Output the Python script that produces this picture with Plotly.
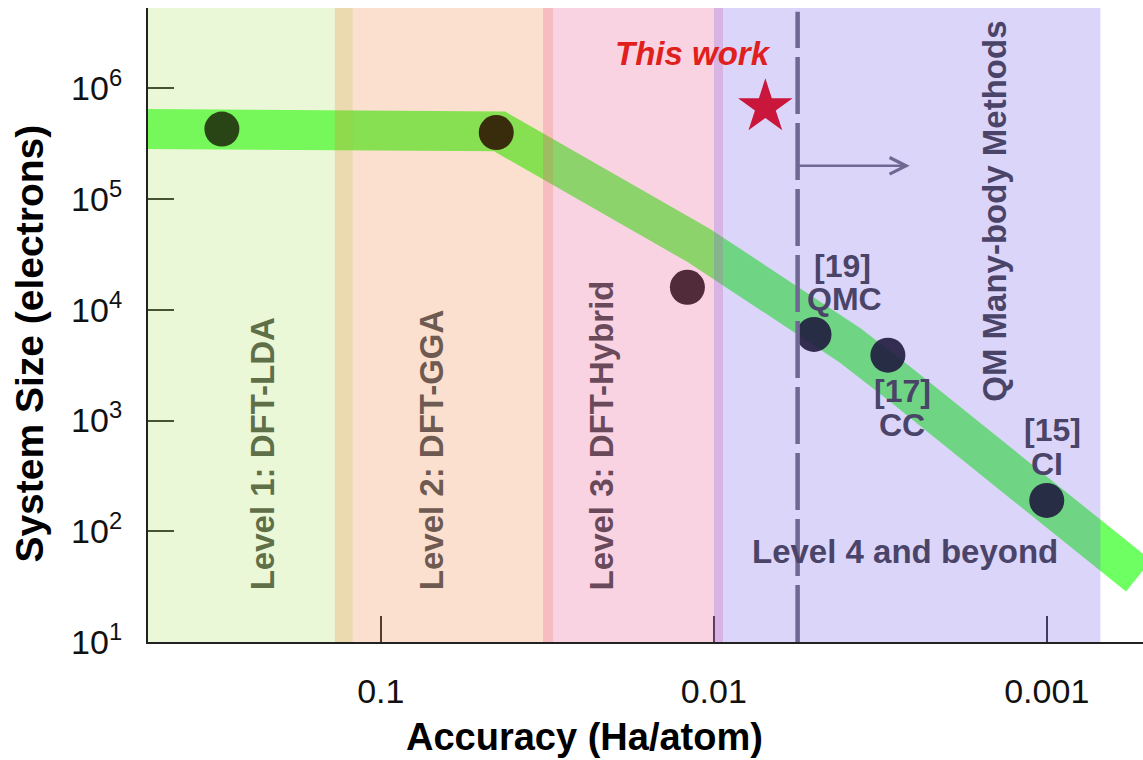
import numpy as np
import plotly.graph_objects as go

# Trend band: accuracy (Ha/atom) vs. reachable system size (electrons)
trend_acc = [0.5, 0.044, 0.01102, 0.0078, 0.00552, 0.00391, 0.00276, 0.001, 0.00053]
trend_size = [4.3e5, 4.1e5, 3.78e4, 2.02e4, 1.02e4, 4.82e3, 2.14e3, 184, 39.5]

# Representative methods
method_acc = [0.30, 0.045, 0.012, 0.005, 0.003, 0.001]
method_size = [4.3e5, 4.0e5, 1.6e4, 6.0e3, 3.9e3, 190]

# This work
this_work_acc = [0.007]
this_work_size = [6.8e5]

# Accuracy levels (band from high to low accuracy value)
band_hi = [0.5, 0.1374, 0.03255, 0.00998]
band_lo = [0.1214, 0.03038, 0.00938, 0.00069]
band_fill = ["rgba(155,220,60,0.2)", "rgba(235,100,20,0.2)",
             "rgba(232,80,140,0.25)", "rgba(115,87,235,0.25)"]

# Many-body threshold
qm_threshold = 0.0056
arrow_end = 0.00258
arrow_size = 2.0e5

x_tickvals = [0.1, 0.01, 0.001]
x_ticktext = ["0.1", "0.01", "0.001"]
y_tickvals = [1e1, 1e2, 1e3, 1e4, 1e5, 1e6]
y_ticktext = ["10<sup>1</sup>", "10<sup>2</sup>", "10<sup>3</sup>",
              "10<sup>4</sup>", "10<sup>5</sup>", "10<sup>6</sup>"]

FONT = "Liberation Sans, Arial, sans-serif"
L = np.log10

fig = go.Figure()

fig.add_trace(go.Scatter(
    x=trend_acc, y=trend_size, mode="lines",
    line=dict(color="rgb(110,255,98)", width=40),
    hoverinfo="skip", showlegend=False))

fig.add_trace(go.Scatter(
    x=method_acc, y=method_size, mode="markers",
    marker=dict(size=35, color="rgba(0,0,0,0.88)", line=dict(width=0)),
    showlegend=False))

fig.add_trace(go.Scatter(
    x=this_work_acc, y=this_work_size, mode="markers",
    marker=dict(symbol="star", size=41, color="rgb(232,0,0)", line=dict(width=0)),
    showlegend=False))

shapes = []
for hi, lo, col in zip(band_hi, band_lo, band_fill):
    shapes.append(dict(type="rect", xref="x", yref="y domain",
                       x0=hi, x1=lo, y0=0, y1=1,
                       fillcolor=col, line=dict(width=0), layer="above"))
shapes.append(dict(type="line", xref="x", yref="y domain",
                   x0=qm_threshold, x1=qm_threshold, y0=0, y1=0.994,
                   line=dict(color="#6F6892", width=4.5, dash="57px,9px"),
                   layer="above"))
fig.update_layout(shapes=shapes)

annotations = []
# threshold arrow
annotations.append(dict(
    x=L(arrow_end), y=L(arrow_size), ax=L(qm_threshold), ay=L(arrow_size),
    xref="x", yref="y", axref="x", ayref="y", text="", showarrow=True,
    arrowhead=5, arrowsize=1.3, arrowwidth=2.5, arrowcolor="#6F6892"))


def label(text, acc, size, color, angle=0, yanchor="middle", xanchor="center", fs=33):
    annotations.append(dict(
        x=L(acc), y=L(size), xref="x", yref="y", text=text, showarrow=False,
        textangle=angle, xanchor=xanchor, yanchor=yanchor,
        font=dict(family=FONT, size=fs, color=color)))


label("<b>Level 1: DFT-LDA</b>", 0.226, 28.3, "#5F7048", angle=-90, yanchor="bottom")
label("<b>Level 2: DFT-GGA</b>", 0.0703, 28.3, "#6E5A50", angle=-90, yanchor="bottom")
label("<b>Level 3: DFT-Hybrid</b>", 0.0216, 28.3, "#6A4A5A", angle=-90, yanchor="bottom")
label("<b>QM Many-body Methods</b>", 0.00143, 7.7e4, "#4B4469", angle=-90)
label("<b>Level 4 and beyond</b>", 0.00267, 66, "#4B4469")
label("<b>[19]</b>", 0.0041, 2.5e4, "#4B4469", fs=32)
label("<b>QMC</b>", 0.00405, 1.25e4, "#4B4469", fs=32)
label("<b>[17]</b>", 0.00272, 1.85e3, "#4B4469", fs=32)
label("<b>CC</b>", 0.00272, 910, "#4B4469", fs=32)
label("<b>[15]</b>", 0.00096, 820, "#4B4469", fs=32)
label("<b>CI</b>", 0.001, 405, "#4B4469", fs=32)
label("<b><i>This work</i></b>", 0.01156, 2.05e6, "#E0201C")

# axis titles
annotations.append(dict(
    x=0.439, y=-0.1505, xref="paper", yref="paper", showarrow=False,
    text="<b>Accuracy (Ha/atom)</b>", xanchor="center", yanchor="middle",
    font=dict(family=FONT, size=38, color="#000")))
annotations.append(dict(
    x=-0.12, y=0.47, xref="paper", yref="paper", showarrow=False,
    text="<b>System Size (electrons)</b>", textangle=-90,
    xanchor="center", yanchor="middle",
    font=dict(family=FONT, size=39, color="#000")))

fig.update_layout(
    annotations=annotations,
    width=1143, height=760,
    margin=dict(l=148, r=0, t=8, b=118),
    paper_bgcolor="white", plot_bgcolor="white",
    font=dict(family=FONT, color="#222"),
    showlegend=False,
    xaxis=dict(type="log", range=[-0.301, -3.289],
               tickvals=x_tickvals, ticktext=x_ticktext,
               ticks="inside", ticklen=26, tickwidth=1.5, tickcolor="#333",
               showline=True, linecolor="#222", linewidth=2,
               showgrid=False, zeroline=False,
               tickfont=dict(family=FONT, size=34, color="#111"),
               ticklabelstandoff=18),
    yaxis=dict(type="log", range=[1, 6.727],
               tickvals=y_tickvals, ticktext=y_ticktext,
               ticks="inside", ticklen=26, tickwidth=1.5, tickcolor="#333",
               showline=True, linecolor="#222", linewidth=2,
               showgrid=False, zeroline=False,
               tickfont=dict(family=FONT, size=34, color="#111"),
               ticklabelstandoff=17),
)

fig.write_html("out.html")
